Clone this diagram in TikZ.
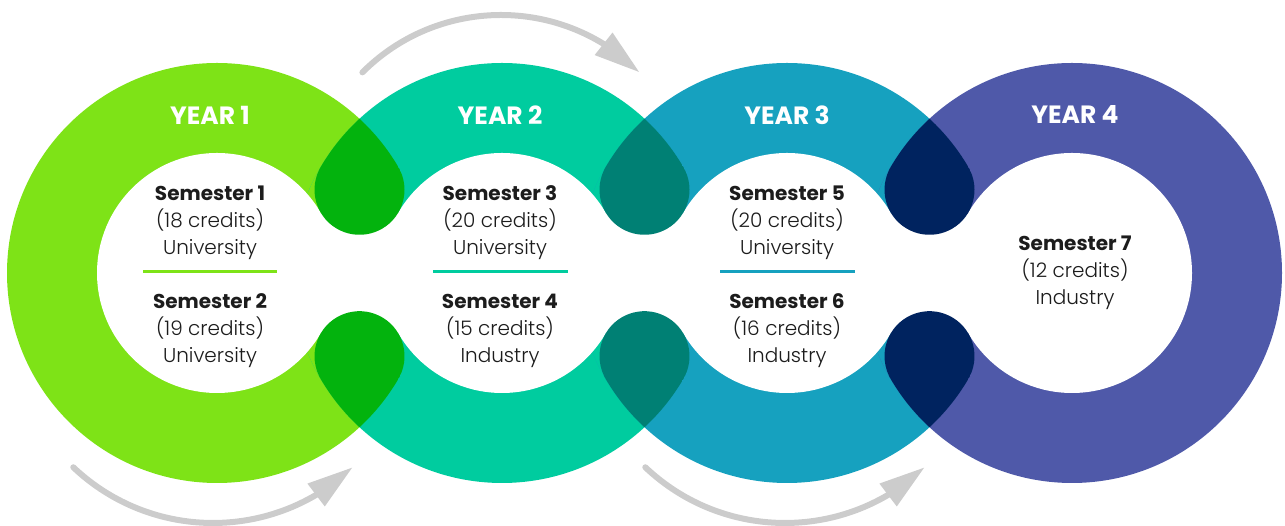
\documentclass[tikz,border=0pt]{standalone}
\usepackage{fontspec}
\setmainfont{Poppins}
\newfontfamily\lightfont{Poppins Light}
\usetikzlibrary{arrows.meta,bending,calc}
\definecolor{yone}{HTML}{7EE317}
\definecolor{ytwo}{HTML}{00CC9F}
\definecolor{ythree}{HTML}{16A1BF}
\definecolor{yfour}{HTML}{4F59A9}
\definecolor{dot12}{HTML}{03B30D}
\definecolor{dot23}{HTML}{008074}
\definecolor{dot34}{HTML}{00235F}
\definecolor{flowgray}{HTML}{CCCCCC}
\definecolor{ink}{HTML}{1C1C1C}
\tikzset{
  year/.style    = {text=white, font=\bfseries\fontsize{25}{25}\selectfont},
  sem/.style     = {align=center, text=ink, font=\fontsize{20}{27}\selectfont},
  divider/.style = {line width=3pt},
  flow/.style    = {draw=flowgray, line width=6pt, line cap=round,
                    -{Triangle[length=46pt,width=27pt,flex]}},
}

\begin{document}
\begin{tikzpicture}[x=1pt,y=1pt]
\useasboundingbox (0,0) rectangle (1285,526);

% ring centres
\foreach \i/\x in {1/217,2/502,3/787,4/1072}
  \coordinate (r\i) at (\x,253);

% the four rings
\foreach \i/\c in {1/yone,2/ytwo,3/ythree,4/yfour}
  \fill[\c] (r\i) circle (210);

% left half of each overlap keeps the left colour
\foreach \i/\j/\c in {1/2/yone,2/3/ytwo,3/4/ythree}{
  \begin{scope}
    \clip (r\j) circle (210);
    \clip (r\i) circle (210);
    \fill[\c] ($(r\i)+(0,-220)$) rectangle ($(r\i)!0.5!(r\j)+(0,220)$);
  \end{scope}
}

% white holes
\foreach \i in {1,...,4}
  \fill[white] (r\i) circle (120);
\foreach \i/\j in {1/2,2/3,3/4}
  \fill[white] ($(r\i)+(103.6,-60.5)$) rectangle ($(r\j)+(-103.6,60.5)$);

% drops where two rings meet
\foreach \i/\j/\c in {1/2/dot12,2/3/dot23,3/4/dot34}{
  \begin{scope}
    \clip (r\j) circle (210);
    \clip (r\i) circle (210);
    \coordinate (m) at ($(r\i)!0.5!(r\j)$);
    \fill[\c] ($(m)+(0,187)$) -- ($(m)+(0,83.2)+(154.3:45)$)
      arc (154.3:385.7:45) -- cycle;
    \fill[\c] ($(m)+(0,-187)$) -- ($(m)+(0,-83.2)+(-25.7:45)$)
      arc (-25.7:205.7:45) -- cycle;
  \end{scope}
}

% years
\node[year] (y1) at (210,411) {YEAR 1};
\node[year] (y2) at (500,411) {YEAR 2};
\node[year] (y3) at (787,411) {YEAR 3};
\node[year] (y4) at (1075,411) {YEAR 4};

% semesters
\node[sem] (s1) at (210,303) {\textbf{Semester 1}\\{\lightfont (18 credits)}\\{\lightfont University}};
\node[sem] (s2) at (210,195) {\textbf{Semester 2}\\{\lightfont (19 credits)}\\{\lightfont University}};
\node[sem] (s3) at (500,303) {\textbf{Semester 3}\\{\lightfont (20 credits)}\\{\lightfont University}};
\node[sem] (s4) at (500,195) {\textbf{Semester 4}\\{\lightfont (15 credits)}\\{\lightfont Industry}};
\node[sem] (s5) at (787,303) {\textbf{Semester 5}\\{\lightfont (20 credits)}\\{\lightfont University}};
\node[sem] (s6) at (787,195) {\textbf{Semester 6}\\{\lightfont (16 credits)}\\{\lightfont Industry}};
\node[sem] (s7) at (1075,253) {\textbf{Semester 7}\\{\lightfont (12 credits)}\\{\lightfont Industry}};

% dividers
\draw[divider, yone]   (143,254) -- (277,254);
\draw[divider, ytwo]   (433,254) -- (568,254);
\draw[divider, ythree] (720,254) -- (855,254);

% flow arrows
\coordinate (f1) at (213,206);
\coordinate (f2) at (501,315);
\coordinate (f3) at (785,206);
\draw[flow] ($(f1)+(226.5:203)$) arc (226.5:313.5:203);
\draw[flow] ($(f2)+(135:196)$) arc (135:45:196);
\draw[flow] ($(f3)+(226.5:203)$) arc (226.5:313.5:203);

\end{tikzpicture}
\end{document}
